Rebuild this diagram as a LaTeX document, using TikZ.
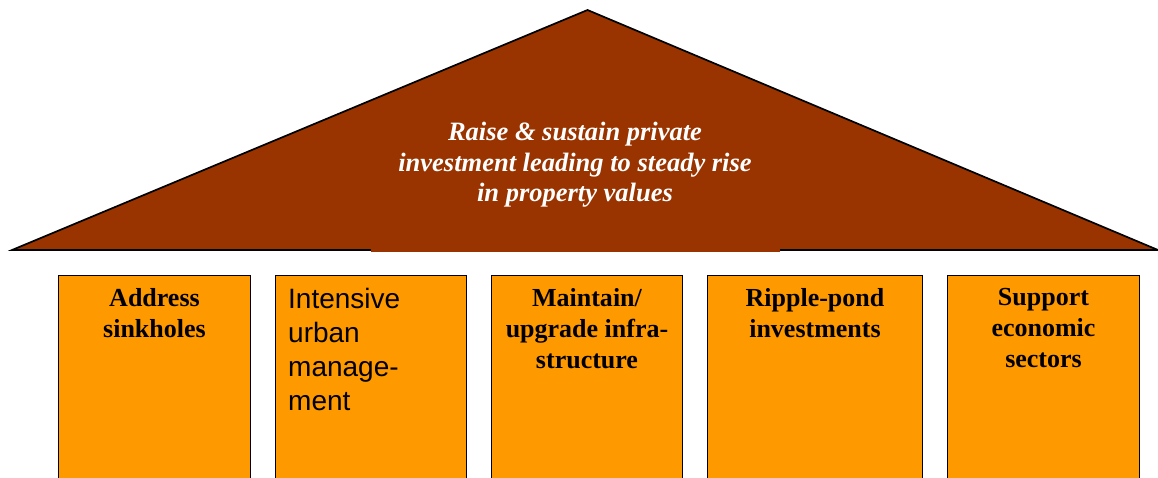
\documentclass[tikz,border=0pt]{standalone}
\usepackage{fontspec}
\setmainfont{Liberation Serif}
\newfontfamily\sansf{Liberation Sans}
\definecolor{roofc}{HTML}{993300}
\definecolor{pillarc}{HTML}{FF9900}
\begin{document}
\begin{tikzpicture}[x=1pt,y=-1pt,
  pillar/.style={draw=black, line width=1.7pt, fill=pillarc, anchor=north, inner sep=0pt, minimum height=240pt},
  ptext/.style={anchor=north, align=center, inner sep=0pt, font=\fontsize{26}{31}\selectfont\bfseries},
  stext/.style={anchor=north west, align=left, inner sep=0pt, font=\sansf\fontsize{28}{34}\selectfont},
  rtext/.style={anchor=north, align=center, inner sep=0pt, text=white, font=\fontsize{26.5}{30.5}\selectfont\bfseries\itshape}]
\useasboundingbox (0,0) rectangle (1158,477);
\clip (0,0) rectangle (1158,477);
\coordinate (apex) at (587.5,10);
\coordinate (bl) at (12,250);
\coordinate (br) at (1158,250);
\draw[fill=roofc, line width=1.7pt, line join=miter] (bl) -- (apex) -- (br) -- cycle;
\fill[roofc] (371,247) rectangle (780,251.8);
\node[rtext] (goal) at (575,122) {Raise \& sustain private\\investment leading to steady rise\\in property values};
\node[pillar, minimum width=192pt] (p1) at (154.5,274.5) {};
\node[pillar, minimum width=191pt] (p2) at (371,274.5) {};
\node[pillar, minimum width=191pt] (p3) at (587,274.5) {};
\node[pillar, minimum width=215pt] (p4) at (815,274.5) {};
\node[pillar, minimum width=192pt] (p5) at (1043.5,274.5) {};
\node[ptext] (t1) at (154.5,288) {Address\\sinkholes};
\node[stext] (t2) at (288,288) {Intensive\\urban\\manage-\\ment};
\node[ptext] (t3) at (587,288) {Maintain/\\upgrade infra-\\structure};
\node[ptext] (t4) at (815,288) {Ripple-pond\\investments};
\node[ptext] (t5) at (1043.5,288) {Support\\economic\\sectors};
\end{tikzpicture}
\end{document}
